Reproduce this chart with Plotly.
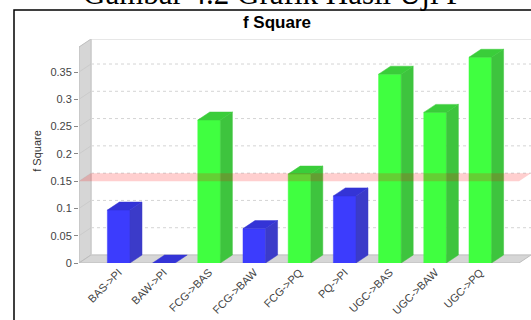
import plotly.graph_objects as go

# ---- data -------------------------------------------------------------
categories = ["BAS->PI", "BAW->PI", "FCG->BAS", "FCG->BAW", "FCG->PQ",
              "PQ->PI", "UGC->BAS", "UGC->BAW", "UGC->PQ"]
f_square = [0.097, 0.0, 0.262, 0.063, 0.163, 0.123, 0.346, 0.276, 0.377]
threshold = 0.15
y_ticks = [0, 0.05, 0.10, 0.15, 0.20, 0.25, 0.30, 0.35]
y_tick_labels = ["0", "0.05", "0.1", "0.15", "0.2", "0.25", "0.3", "0.35"]

# ---- geometry of the pseudo-3D plot -----------------------------------
W, H = 531, 320
ML, MR, MT, MB = 79, 0, 39, 57          # plot box (back wall reaches the right edge)
PX_PER_CAT = 45.2                        # pixels per category step
PX_PER_UNIT = 545.7                      # pixels per f-square unit
DEPTH_X, DEPTH_Y = 12, 8                 # 3D depth offset in pixels

plot_w = W - ML - MR
plot_h = H - MT - MB
X0 = -0.878
X1 = X0 + plot_w / PX_PER_CAT
Y1 = plot_h / PX_PER_UNIT
DX = DEPTH_X / PX_PER_CAT
DY = DEPTH_Y / PX_PER_UNIT
HALF = 0.25                              # half bar width (category units)


def px_to_paper(px, py):
    return (px - ML) / plot_w, 1 - (py - MT) / plot_h


BLUE = dict(front="#3c3cfd", side="#3b3bc9", top="#3434d6")
GREEN = dict(front="#40ff40", side="#3ec43e", top="#3acd3a")

fig = go.Figure()
shapes = []

# walls: left side wall and floor
wall_fill, wall_line = "#d6d6d6", "#bcbcbc"
shapes.append(dict(type="path", layer="below", xref="x", yref="y",
                   path=f"M {X0},0 L {X0+DX},{DY} L {X0+DX},{Y1} L {X0},{Y1-DY} Z",
                   fillcolor=wall_fill, line=dict(color=wall_line, width=1)))
shapes.append(dict(type="path", layer="below", xref="x", yref="y",
                   path=f"M {X0},0 L {X1-DX},0 L {X1},{DY} L {X0+DX},{DY} Z",
                   fillcolor=wall_fill, line=dict(color=wall_line, width=1)))
# back wall outline
shapes.append(dict(type="rect", layer="below", xref="x", yref="y",
                   x0=X0 + DX, x1=X1 + 0.05, y0=DY, y1=Y1,
                   fillcolor="rgba(0,0,0,0)", line=dict(color="#d0d0d0", width=1.2)))
# dashed grid lines on the back wall, linked to the axis ticks on the side wall
for v in y_ticks[1:]:
    shapes.append(dict(type="line", layer="below", xref="x", yref="y",
                       x0=X0 + DX, x1=X1, y0=v + DY, y1=v + DY,
                       line=dict(color="#d4d4d4", width=1, dash="3px,3px")))
    shapes.append(dict(type="line", layer="below", xref="x", yref="y",
                       x0=X0, x1=X0 + DX, y0=v, y1=v + DY,
                       line=dict(color="#c8c8c8", width=0.8)))


def poly(xs, ys, color):
    fig.add_trace(go.Scatter(x=xs + [xs[0]], y=ys + [ys[0]], mode="lines",
                             fill="toself", fillcolor=color,
                             line=dict(color=color, width=0.5),
                             hoverinfo="skip", showlegend=False))


# bars: front face, top face, right side face
for i, v in enumerate(f_square):
    pal = GREEN if v >= threshold else BLUE
    xl, xr = i - HALF, i + HALF
    if v > 0:
        poly([xl, xr, xr, xl], [0, 0, v, v], pal["front"])
        poly([xr, xr + DX, xr + DX, xr], [0, DY, v + DY, v], pal["side"])
    poly([xl, xr, xr + DX, xl + DX], [v, v, v + DY, v + DY], pal["top"])

# threshold marker band
fig.add_trace(go.Scatter(
    x=[X0, X1 - DX, X1, X0 + DX, X0],
    y=[threshold, threshold, threshold + DY, threshold + DY, threshold],
    mode="lines", fill="toself", fillcolor="rgba(255,0,0,0.19)",
    line=dict(width=0), hoverinfo="skip", showlegend=False))

# outer frame of the chart image
fx0, fy0 = px_to_paper(14, 10)
fx1, fy1 = px_to_paper(W + 20, H + 20)
shapes.append(dict(type="rect", xref="paper", yref="paper",
                   x0=fx0, y0=fy1, x1=fx1, y1=fy0,
                   line=dict(color="black", width=1.5), fillcolor="rgba(0,0,0,0)"))

# caption line above the frame (partly outside the page)
cx, cy = px_to_paper(273, -6)
annotations = [dict(text="Gambar 4.2 Grafik Hasil Uji F", xref="paper", yref="paper",
                    x=cx, y=cy, xanchor="center", yanchor="middle", showarrow=False,
                    font=dict(family="Liberation Serif", size=31, color="black"))]

fig.update_layout(
    width=W, height=H,
    margin=dict(l=ML, r=MR, t=MT, b=MB, pad=0),
    paper_bgcolor="white", plot_bgcolor="white",
    font=dict(family="Liberation Sans", color="#444444"),
    title=dict(text="<b>f Square</b>", x=277 / W, y=1 - 22 / H,
               xanchor="center", yanchor="middle",
               font=dict(family="Liberation Sans", size=17, color="black")),
    shapes=shapes,
    annotations=annotations,
    xaxis=dict(range=[X0, X1], tickmode="array", tickvals=list(range(len(categories))),
               ticktext=categories, tickangle=-45, tickfont=dict(size=11, color="#444444"),
               showgrid=False, zeroline=False, showline=False, ticks="", fixedrange=True),
    yaxis=dict(range=[0, Y1], tickmode="array", tickvals=y_ticks, ticktext=y_tick_labels,
               tickfont=dict(size=11, color="#444444"), ticks="outside", ticklen=4,
               tickcolor="#888888", showgrid=False, zeroline=False, showline=False,
               title=dict(text="f Square", font=dict(size=11, color="#333333"), standoff=6),
               fixedrange=True),
)

fig.write_html("out.html")
